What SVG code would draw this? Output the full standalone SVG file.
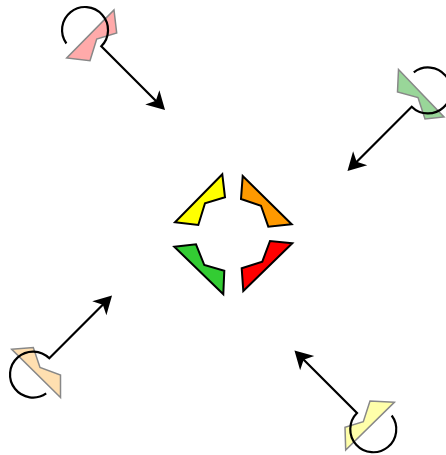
<svg xmlns="http://www.w3.org/2000/svg" width="446" height="455" viewBox="0 0 446 455">
<style>
.piece{stroke:#000;stroke-width:2;stroke-linejoin:miter}
.ghost{stroke:#888;stroke-width:1.5;stroke-linejoin:miter}
.rot{fill:none;stroke:#000;stroke-width:2.2;stroke-linejoin:miter;marker-end:url(#ah)}
</style>
<defs>
<marker id="ah" markerUnits="userSpaceOnUse" viewBox="-15 -12 22 24" markerWidth="22" markerHeight="24" refX="0" refY="0" orient="auto">
<path d="M5,0 L-13,-10 L-8,0 L-13,10 Z" fill="#000"/>
</marker>
</defs>
<rect width="446" height="455" fill="#fff"/>
<g id="center-yellow"><polygon class="piece" fill="#ffff00" points="222.3,174.3 225,197.3 205,203.3 198.3,225 175,222.3"/></g>
<g id="center-orange"><polygon class="piece" fill="#ff9900" points="242.7,176 241,199 261,205.7 268.3,226.7 291.7,224.3"/></g>
<g id="center-green"><polygon class="piece" fill="#33cc33" points="174.3,246.7 196,244.3 204.3,265 224.3,270.7 223.3,294.3"/></g>
<g id="center-red"><polygon class="piece" fill="#ff0000" points="292.3,243.3 270,241 262.3,261.7 241.7,268.3 243.3,291"/></g>
<g id="corner-pink"><polygon class="ghost" fill="#ffaaaa" points="114,10 116.7,33 96.7,39 90,60.7 66.7,58"/></g>
<g id="corner-green"><polygon class="ghost" fill="#99d699" points="398.5,69.5 397.5,92 418,97.5 425,119 444,117"/></g>
<g id="corner-peach"><polygon class="ghost" fill="#ffdfb0" points="11.7,349.3 33.3,347.5 40,367.5 60.5,375 60.5,397.5"/></g>
<g id="corner-yellow"><polygon class="ghost" fill="#ffffaa" points="394.3,402.3 370,401 363.3,421.7 345,427.3 345.7,450"/></g>
<g id="connectors">
<path class="rot" d="M66.4,43.5 A23,23 0 1 1 101.3,46.3 L161.5,106.5"/>
<path class="rot" d="M413.8,72.3 A23,23 0 1 1 411.7,106.7 L351,167.5"/>
<path class="rot" d="M46.2,393.4 A23,23 0 1 1 49.3,358.3 L108.5,299"/>
<path class="rot" d="M391.7,415.5 A23,23 0 1 1 357,413 L298,354"/>
</g>
</svg>
